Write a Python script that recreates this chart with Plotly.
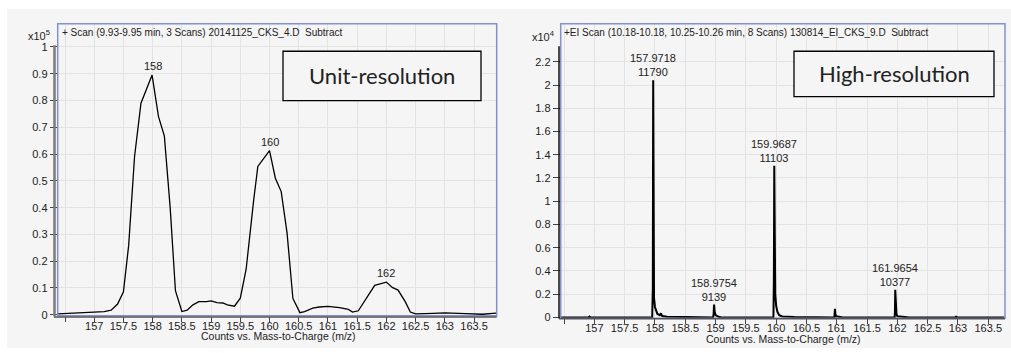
import plotly.graph_objects as go

W, H = 1011, 353

# ---------------- data ----------------
# Unit-resolution profile (left), intensity in x10^5
unit_mz = [156.38, 156.97, 157.17, 157.29, 157.40, 157.50, 157.59, 157.69, 157.80, 157.99,
           158.10, 158.20, 158.30, 158.39, 158.50, 158.59, 158.69, 158.79, 158.92, 159.00,
           159.10, 159.20, 159.28, 159.40, 159.50, 159.60, 159.66, 159.73, 159.80, 160.00,
           160.10, 160.20, 160.30, 160.40, 160.52, 160.60, 160.74, 160.85, 161.00, 161.20,
           161.35, 161.42, 161.52, 161.60, 161.69, 161.80, 162.00, 162.10, 162.20, 162.32,
           162.41, 162.50, 162.80, 163.00, 163.35, 163.64, 163.88]
unit_int = [0.003, 0.008, 0.012, 0.017, 0.040, 0.086, 0.26, 0.59, 0.79, 0.895,
            0.74, 0.668, 0.40, 0.09, 0.012, 0.017, 0.037, 0.049, 0.049, 0.052,
            0.045, 0.044, 0.037, 0.032, 0.062, 0.17, 0.30, 0.43, 0.554, 0.613,
            0.51, 0.46, 0.306, 0.061, 0.008, 0.012, 0.025, 0.029, 0.031, 0.027,
            0.020, 0.010, 0.015, 0.043, 0.073, 0.11, 0.122, 0.102, 0.092, 0.050,
            0.010, 0.003, 0.005, 0.007, 0.004, 0.002, 0.006]
unit_labels_mz = [158.0, 160.0, 162.0]
unit_labels_int = [0.895, 0.613, 0.122]
unit_labels_text = ["158", "160", "162"]

# High-resolution profile (right), intensity in x10^4
high_mz = [156.45, 156.90, 156.92, 156.94, 157.955, 157.965, 157.971, 157.975, 157.985, 158.00,
           158.02, 158.04, 158.08, 158.10, 158.12, 158.20, 158.50, 158.60, 158.96, 158.968,
           158.975, 158.985, 159.00, 159.05, 159.10, 159.955, 159.962, 159.969, 159.975, 159.985,
           160.00, 160.02, 160.05, 160.10, 160.30, 160.50, 160.60, 160.96, 160.965, 160.970,
           160.977, 160.99, 161.05, 161.10, 161.955, 161.960, 161.965, 161.972, 161.985, 162.00,
           162.10, 162.20, 162.96, 162.97, 162.98, 163.77]
high_int = [0.0, 0.0, 0.008, 0.0, 0.0, 0.26, 2.04, 0.26, 0.17, 0.09,
            0.05, 0.03, 0.02, 0.035, 0.012, 0.006, 0.004, 0.003, 0.0, 0.03,
            0.11, 0.05, 0.02, 0.005, 0.0, 0.0, 0.31, 1.306, 0.31, 0.20,
            0.10, 0.05, 0.02, 0.008, 0.003, 0.002, 0.0, 0.0, 0.03, 0.074,
            0.03, 0.01, 0.005, 0.0, 0.0, 0.05, 0.238, 0.07, 0.03, 0.01,
            0.004, 0.0, 0.0, 0.012, 0.0, 0.0]
high_labels_mz = [157.9718, 158.9754, 159.9687, 161.9654]
high_labels_int = [2.04, 0.11, 1.306, 0.238]
high_labels_text = ["157.9718<br>11790", "158.9754<br>9139", "159.9687<br>11103", "161.9654<br>10377"]

x_tickvals = [156.5, 157, 157.5, 158, 158.5, 159, 159.5, 160, 160.5, 161, 161.5, 162, 162.5, 163, 163.5]
x_ticktext = ["", "157", "157.5", "158", "158.5", "159", "159.5", "160", "160.5", "161", "161.5",
              "162", "162.5", "163", "163.5"]
left_y_tickvals = [0, 0.1, 0.2, 0.3, 0.4, 0.5, 0.6, 0.7, 0.8, 0.9, 1.0]
left_y_ticktext = ["0", "0.1", "0.2", "0.3", "0.4", "0.5", "0.6", "0.7", "0.8", "0.9", "1"]
right_y_tickvals = [0, 0.2, 0.4, 0.6, 0.8, 1.0, 1.2, 1.4, 1.6, 1.8, 2.0, 2.2]
right_y_ticktext = ["0", "0.2", "0.4", "0.6", "0.8", "1", "1.2", "1.4", "1.6", "1.8", "2", "2.2"]

left_title = "+ Scan (9.93-9.95 min, 3 Scans) 20141125_CKS_4.D  Subtract"
right_title = "+EI Scan (10.18-10.18, 10.25-10.26 min, 8 Scans) 130814_EI_CKS_9.D  Subtract"
x_title = "Counts vs. Mass-to-Charge (m/z)"
left_box_text = "Unit-resolution"
right_box_text = "High-resolution"

# ---------------- helpers ----------------
def px(x):
    return x / W

def py(y):
    return 1 - y / H

FONT = "Liberation Sans, Arial, sans-serif"
BG = "#f5f5f5"
GRID = "#e3e3e3"
BORDER = "#8391cf"

fig = go.Figure()
fig.add_trace(go.Scatter(x=unit_mz, y=unit_int, mode="lines",
                         line=dict(color="#000000", width=1.3), xaxis="x", yaxis="y",
                         hoverinfo="skip", showlegend=False))
fig.add_trace(go.Scatter(x=high_mz, y=high_int, mode="lines",
                         line=dict(color="#000000", width=2), xaxis="x2", yaxis="y2",
                         hoverinfo="skip", showlegend=False))

common_x = dict(tickmode="array", tickvals=x_tickvals, ticktext=x_ticktext,
                showgrid=True, gridcolor=GRID, gridwidth=1, zeroline=False,
                ticks="outside", ticklen=5, tickcolor="#444", tickwidth=1,
                ticklabelstandoff=-5,
                showline=False, tickfont=dict(family=FONT, size=11, color="#222"),
                fixedrange=True)
common_y = dict(showgrid=True, gridcolor=GRID, gridwidth=1, zeroline=False,
                ticks="outside", ticklen=7, tickcolor="#444", tickwidth=1,
                showline=False, tickfont=dict(family=FONT, size=11, color="#222"),
                fixedrange=True)

L_left, L_right, L_top, L_bot = 57.7, 496.7, 24, 320.3
R_left, R_right, R_top, R_bot = 560.7, 1005, 24, 322.7

fig.update_layout(
    width=W, height=H,
    margin=dict(l=0, r=0, t=0, b=0),
    paper_bgcolor="#ffffff",
    plot_bgcolor=BG,
    xaxis=dict(domain=[px(L_left), px(L_right)], range=[156.375, 163.888], anchor="y", **common_x),
    yaxis=dict(domain=[py(L_bot), py(L_top)], range=[-0.0037, 1.087], anchor="x",
               tickmode="array", tickvals=left_y_tickvals, ticktext=left_y_ticktext, **common_y),
    xaxis2=dict(domain=[px(R_left), px(R_right)], range=[156.445, 163.776], anchor="y2", **common_x),
    yaxis2=dict(domain=[py(R_bot), py(R_top)], range=[-0.006, 2.528], anchor="x2",
                tickmode="array", tickvals=right_y_tickvals, ticktext=right_y_ticktext, **common_y),
)

shapes = []
# gray background panel
shapes.append(dict(type="rect", xref="paper", yref="paper", x0=px(7), x1=1, y0=0, y1=py(9),
                   fillcolor=BG, line=dict(width=0), layer="below"))
# plot borders
for (l, r, t, b) in [(L_left, L_right, L_top, L_bot), (R_left, R_right, R_top, R_bot)]:
    shapes.append(dict(type="rect", xref="paper", yref="paper", x0=px(l), x1=px(r), y0=py(b), y1=py(t),
                       line=dict(color=BORDER, width=1.5), fillcolor="rgba(0,0,0,0)", layer="above"))
# axis lines
shapes.append(dict(type="line", xref="paper", yref="paper", x0=px(54.5), x1=px(54.5), y0=py(321), y1=py(46),
                   line=dict(color="#7a7a7a", width=2.5), layer="above"))
shapes.append(dict(type="line", xref="paper", yref="paper", x0=px(54), x1=px(L_right), y0=py(321.5), y1=py(321.5),
                   line=dict(color="#555555", width=1.5), layer="above"))
shapes.append(dict(type="line", xref="paper", yref="paper", x0=px(559), x1=px(559), y0=py(323), y1=py(47),
                   line=dict(color="#111111", width=1.5), layer="above"))
shapes.append(dict(type="line", xref="paper", yref="paper", x0=px(559), x1=px(R_right), y0=py(323.3), y1=py(323.3),
                   line=dict(color="#555555", width=1.5), layer="above"))
# text boxes
shapes.append(dict(type="rect", xref="paper", yref="paper", x0=px(283), x1=px(481), y0=py(102), y1=py(52),
                   line=dict(color="#000000", width=1.3), fillcolor=BG, layer="above"))
shapes.append(dict(type="rect", xref="paper", yref="paper", x0=px(794), x1=px(994), y0=py(98), y1=py(52),
                   line=dict(color="#000000", width=1.3), fillcolor=BG, layer="above"))
fig.update_layout(shapes=shapes)

ann = []
def ptext(x, y, text, size=11, xanchor="center", yanchor="middle", family=FONT):
    ann.append(dict(xref="paper", yref="paper", x=px(x), y=py(y), text=text, showarrow=False,
                    xanchor=xanchor, yanchor=yanchor, font=dict(family=family, size=size, color="#222")))

ptext(60, 33, left_title, size=10, xanchor="left")
ptext(562, 33, right_title, size=10, xanchor="left")
ptext(26, 36, "x10<sup>5</sup>", size=11, xanchor="left")
ptext(530, 37, "x10<sup>4</sup>", size=11, xanchor="left")
ptext(278, 341, x_title, size=10.5)
ptext(783, 344, x_title, size=10.5)
ptext(382, 77, left_box_text, size=22, family="Lato, Calibri, sans-serif")
ptext(894, 75, right_box_text, size=22, family="Lato, Calibri, sans-serif")

for xv, yv, t in zip(unit_labels_mz, unit_labels_int, unit_labels_text):
    ann.append(dict(xref="x", yref="y", x=xv, y=yv, text=t, showarrow=False, yanchor="bottom",
                    yshift=1, font=dict(family=FONT, size=11, color="#222")))
for xv, yv, t in zip(high_labels_mz, high_labels_int, high_labels_text):
    ann.append(dict(xref="x2", yref="y2", x=xv, y=yv, text=t, showarrow=False, yanchor="bottom",
                    yshift=0, font=dict(family=FONT, size=11, color="#222")))
fig.update_layout(annotations=ann)

fig.write_html("out.html", config={"displayModeBar": False},
               post_script="document.body.style.margin='0';document.body.style.padding='0';"
                           "document.documentElement.style.overflow='hidden';")
